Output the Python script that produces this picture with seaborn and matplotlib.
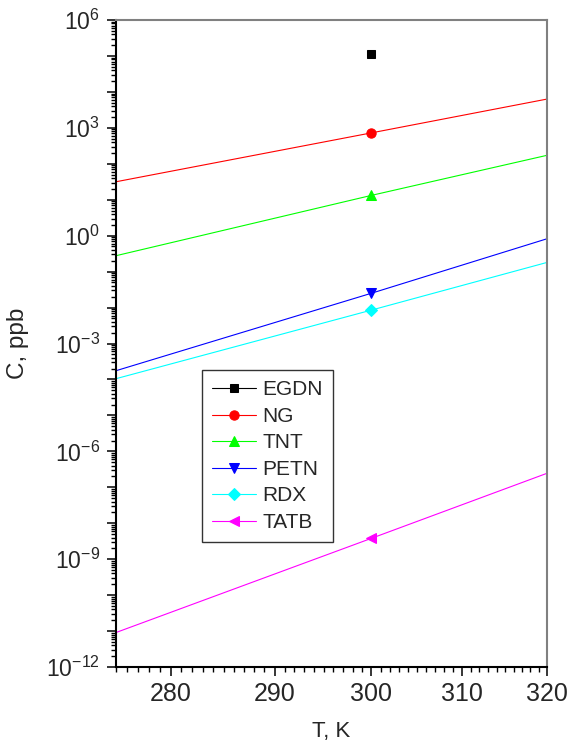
import numpy as np
import matplotlib
matplotlib.use("Agg")
import matplotlib.pyplot as plt
import matplotlib.ticker as mticker
import seaborn as sns

# ---- data ----
T = [275, 300, 320]
names = ["EGDN", "NG", "TNT", "PETN", "RDX", "TATB"]
egdn_T = [300]
egdn_C = [1.13e5]
ng_C = [31.6, 724.0, 6310.0]
tnt_C = [0.277, 13.2, 172.0]
petn_C = [1.75e-4, 0.025, 0.82]
rdx_C = [1.05e-4, 8.5e-3, 0.18]
tatb_C = [9.1e-12, 3.8e-9, 2.45e-7]

xticks_major = [280, 290, 300, 310, 320]
xticks_minor = list(range(275, 321))

sns.set_style("ticks")
plt.rcParams['font.family'] = ['Liberation Sans', 'DejaVu Sans']
plt.rcParams['mathtext.fontset'] = 'custom'
plt.rcParams['mathtext.rm'] = 'Liberation Sans'
plt.rcParams['mathtext.it'] = 'Liberation Sans:italic'
plt.rcParams['mathtext.bf'] = 'Liberation Sans:bold'

fig = plt.figure(figsize=(5.72, 7.44), dpi=100)
ax = fig.add_axes([116/572, 1-667/744, (547-116)/572, (667-20)/744])


def fwd(t):
    t = np.asarray(t, dtype=float)
    with np.errstate(divide='ignore', invalid='ignore'):
        return -1.0 / t


def inv(u):
    u = np.asarray(u, dtype=float)
    with np.errstate(divide='ignore', invalid='ignore'):
        return -1.0 / u


ax.set_xscale('function', functions=(fwd, inv))
ax.set_yscale('log')

series = [
    ("NG", T, ng_C, "#FF0000", "o", 6.7),
    ("TNT", T, tnt_C, "#00FF00", "^", 7.5),
    ("PETN", T, petn_C, "#0000FF", "v", 7.5),
    ("RDX", T, rdx_C, "#00FFFF", "D", 6.3),
    ("TATB", T, tatb_C, "#FF00FF", "<", 7.5),
]

# EGDN: single point
sns.lineplot(x=egdn_T, y=egdn_C, ax=ax, color="black", marker="s", markersize=6.3,
             markeredgecolor="black", linewidth=0.8, label="EGDN", errorbar=None)
for name, xs, ys, col, mk, ms in series:
    sns.lineplot(x=xs, y=ys, ax=ax, color=col, marker=mk, markersize=ms,
                 markeredgecolor=col, markevery=[1], linewidth=0.8,
                 label=name, errorbar=None)

ax.set_xlim(275, 320)
ax.set_ylim(1e-12, 1e6)

ax.xaxis.set_major_locator(mticker.FixedLocator(xticks_major))
ax.xaxis.set_minor_locator(mticker.FixedLocator(xticks_minor))
ax.xaxis.set_major_formatter(mticker.FuncFormatter(lambda v, p: "%d" % round(v)))
ax.xaxis.set_minor_formatter(mticker.NullFormatter())

ax.yaxis.set_major_locator(mticker.LogLocator(base=10, numticks=100))
ax.yaxis.set_minor_locator(mticker.LogLocator(base=10, subs=np.arange(2, 10), numticks=100))


def yfmt(v, p):
    e = int(round(np.log10(v)))
    if e % 3 == 0:
        return r"$\mathregular{10^{%d}}$" % e
    return ""


ax.yaxis.set_major_formatter(mticker.FuncFormatter(yfmt))
ax.yaxis.set_minor_formatter(mticker.NullFormatter())

ax.tick_params(axis='both', which='major', direction='out', length=6.5, width=1.1,
               color='black')
ax.tick_params(axis='x', which='major', labelsize=18, pad=4)
ax.tick_params(axis='y', which='major', labelsize=16.5, pad=5)
ax.tick_params(axis='both', which='minor', direction='out', length=3.5, width=1.0,
               color='black')
ax.tick_params(top=False, right=False, which='both')

for s in ['left', 'bottom']:
    ax.spines[s].set_color('black')
    ax.spines[s].set_linewidth(1.5)
for s in ['top', 'right']:
    ax.spines[s].set_visible(True)
    ax.spines[s].set_color('#808080')
    ax.spines[s].set_linewidth(1.5)

ax.set_xlabel("T, K", fontsize=16, labelpad=11)
ax.set_ylabel("C, ppb", fontsize=17.5, labelpad=12)

leg = ax.legend(loc='upper left', bbox_to_anchor=((202-116)/431, (667-370)/647),
                borderaxespad=0, frameon=True, fancybox=False, fontsize=15,
                handlelength=2.1, handletextpad=0.3, labelspacing=0.36,
                borderpad=0.5, edgecolor='black')
leg.get_frame().set_linewidth(1.0)

fig.savefig("out.png", dpi=100)
